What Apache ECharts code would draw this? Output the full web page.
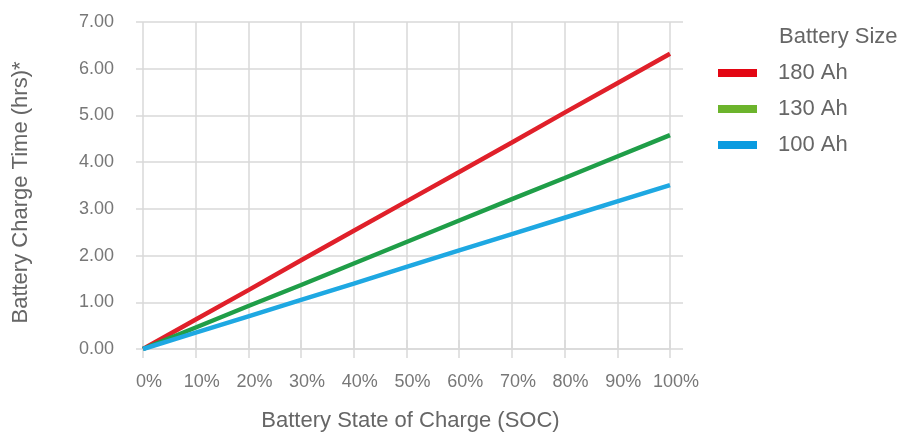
<!DOCTYPE html>
<html><head><meta charset="utf-8">
<script src="https://cdn.jsdelivr.net/npm/echarts@6/dist/echarts.min.js"></script>
<style>html,body{margin:0;padding:0;background:#fff}#c{width:901px;height:434px}</style>
</head><body><div id="c"></div>
<script>
const categories = ['0%','10%','20%','30%','40%','50%','60%','70%','80%','90%','100%'];
const yTicks = [0,1,2,3,4,5,6,7];
const ah180 = [0, 0.63, 1.26, 1.90, 2.53, 3.16, 3.79, 4.42, 5.06, 5.69, 6.32];
const ah130 = [0, 0.46, 0.92, 1.37, 1.83, 2.29, 2.75, 3.21, 3.66, 4.12, 4.58];
const ah100 = [0, 0.35, 0.70, 1.05, 1.40, 1.76, 2.11, 2.46, 2.81, 3.16, 3.51];
const seriesNames = ['180 Ah','130 Ah','100 Ah'];
const lineColors = ['#e0202a','#1f9e48','#1ea8e2'];
const legendColors = ['#e30613','#6cb42c','#0a9be0'];
const FONT = '"Liberation Sans", Arial, sans-serif';
const chart = echarts.init(document.getElementById('c'));
const gridColor = '#d9d9d9';
chart.setOption({
  animation:false,
  textStyle:{fontFamily:FONT},
  title:{text:'Battery Size',left:774,top:21,textStyle:{fontFamily:FONT,fontWeight:'normal',fontSize:22,color:'#666'}},
  legend:{orient:'vertical',left:713,top:57,itemWidth:39,itemHeight:8,itemGap:14,icon:'rect',
    textStyle:{fontFamily:FONT,fontSize:22,color:'#666',padding:[0,0,0,16],lineHeight:22},
    data:seriesNames.map((n,i)=>({name:n,itemStyle:{color:legendColors[i]}}))},
  grid:{left:143,right:231,top:22,bottom:85,outerBoundsMode:'none'},
  xAxis:[{type:'category',data:categories,boundaryGap:false,
    name:'Battery State of Charge (SOC)',nameLocation:'middle',nameGap:61,
    nameTextStyle:{fontFamily:FONT,fontSize:22,color:'#666',padding:[0,0,0,8]},
    axisLine:{lineStyle:{color:gridColor,width:1.5}},
    axisTick:{show:true,alignWithLabel:true,interval:0,length:9,lineStyle:{color:gridColor,width:1.5}},
    axisLabel:{interval:0,margin:24,fontFamily:FONT,fontSize:18,color:'#777',padding:[0,0,0,12]},
    splitLine:{show:true,interval:0,lineStyle:{color:gridColor,width:1.5}}},
   {type:'category',data:categories,boundaryGap:false,position:'top',
    axisLine:{show:false},axisTick:{show:true,interval:0,length:9,lineStyle:{color:gridColor,width:1.5}},
    axisLabel:{show:false},splitLine:{show:false}}],
  yAxis:[{type:'value',min:0,max:7,interval:1,
    name:'Battery Charge Time (hrs)*',nameLocation:'middle',nameGap:111,
    nameTextStyle:{fontFamily:FONT,fontSize:22,color:'#666',padding:[0,14,0,0]},
    axisLine:{show:false},
    axisTick:{show:true,length:7,lineStyle:{color:gridColor,width:1.5}},
    axisLabel:{margin:29,fontFamily:FONT,fontSize:18,color:'#777',
      formatter:v=>yTicks.includes(v)?v.toFixed(2):''},
    splitLine:{show:true,lineStyle:{color:gridColor,width:1.5}}},
   {type:'value',min:0,max:7,interval:1,position:'right',
    axisLine:{show:false},axisTick:{show:true,length:13,lineStyle:{color:gridColor,width:1.5}},
    axisLabel:{show:false},splitLine:{show:false}}],
  series:[ah180,ah130,ah100].map((d,i)=>({name:seriesNames[i],type:'line',data:d,
    showSymbol:false,symbol:'none',lineStyle:{width:4.5,color:lineColors[i]},itemStyle:{color:lineColors[i]}}))
});
</script></body></html>
